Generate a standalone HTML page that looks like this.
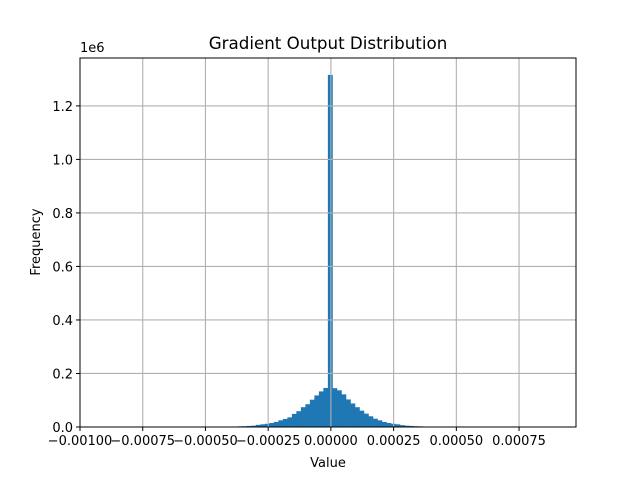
<!DOCTYPE html>
<html><head><meta charset="utf-8"><style>
body{margin:0;background:#fff}
svg text{font-family:"DejaVu Sans","Liberation Sans",sans-serif;fill:#000}
</style></head><body>
<svg id="chart" width="640" height="480" xmlns="http://www.w3.org/2000/svg">
<rect width="640" height="480" fill="#fff"/>
<g id="bars"></g>
<g id="grid"></g>
<rect x="80" y="58" width="496" height="369" fill="none" stroke="#000" stroke-width="1"/>
<g id="xticks"></g>
<g id="yticks"></g>
<text x="328" y="49" font-size="16.7" text-anchor="middle">Gradient Output Distribution</text>
<text x="328" y="467" font-size="13" text-anchor="middle">Value</text>
<text x="40" y="242" font-size="13" text-anchor="middle" transform="rotate(-90 40 242)">Frequency</text>
<text x="80" y="52" font-size="13">1e6</text>
</svg>
<script>
const binStart = -0.000012 - 20 * 0.00001794;
const binWidth = 0.00001794;
const counts = [2500,3000,4000,5000,8000,10000,12000,15000,19000,25000,30000,36000,49000,59000,74000,85000,102000,118000,133000,146000,
  1316000,
  145000,137000,122000,103000,88000,74000,61000,50000,40000,31000,25000,19000,15000,12000,10000,7000,5000,4000,3000,2500];
const xTickVals = [-0.001,-0.00075,-0.0005,-0.00025,0,0.00025,0.0005,0.00075];
const xTickLabels = ["\u22120.00100","\u22120.00075","\u22120.00050","\u22120.00025","0.00000","0.00025","0.00050","0.00075"];
const yTickVals = [0,0.2,0.4,0.6,0.8,1.0,1.2];
const yTickLabels = ["0.0","0.2","0.4","0.6","0.8","1.0","1.2"];

const NS="http://www.w3.org/2000/svg";
const X0=80,X1=576,Y0=427,Y1=58;
const xmin=-0.001,xmax=0.000977,ymax=1.379e6;
const sx=v=>X0+(v-xmin)/(xmax-xmin)*(X1-X0);
const sy=v=>Y0-v/ymax*(Y0-Y1);
function mk(tag,attrs,parent){const e=document.createElementNS(NS,tag);for(const k in attrs)e.setAttribute(k,attrs[k]);parent.appendChild(e);return e;}
const bars=document.getElementById('bars');
counts.forEach((c,i)=>{
  const a=sx(binStart+i*binWidth),b=sx(binStart+(i+1)*binWidth);
  const r=mk('rect',{x:a,y:sy(c),width:b-a+0.4,height:Y0-sy(c),fill:'#1f77b4'},bars);
  
  
});
const grid=document.getElementById('grid'),xt=document.getElementById('xticks'),yt=document.getElementById('yticks');
xTickVals.forEach((v,i)=>{
  const x=sx(v);
  if(i>0){const g=mk('line',{x1:x,x2:x,y1:Y1,y2:Y0,stroke:'#b0b0b0','stroke-width':1.1},grid);
  
  }
  mk('line',{x1:x,x2:x,y1:Y0,y2:Y0+4,stroke:'#000'},xt);
  const t=mk('text',{x:x,y:Y0+18,'font-size':13,'text-anchor':'middle'},xt);
  t.textContent=xTickLabels[i];
  
  
});
yTickVals.forEach((v,i)=>{
  const y=sy(v*1e6);
  if(i>0){const g=mk('line',{x1:X0,x2:X1,y1:y,y2:y,stroke:'#b0b0b0','stroke-width':1.1},grid);
  
  }
  mk('line',{x1:X0-4,x2:X0,y1:y,y2:y,stroke:'#000'},yt);
  const t=mk('text',{x:X0-7,y:y+5,'font-size':13,'text-anchor':'end'},yt);
  t.textContent=yTickLabels[i];
  
  
});
</script>
</body></html>
